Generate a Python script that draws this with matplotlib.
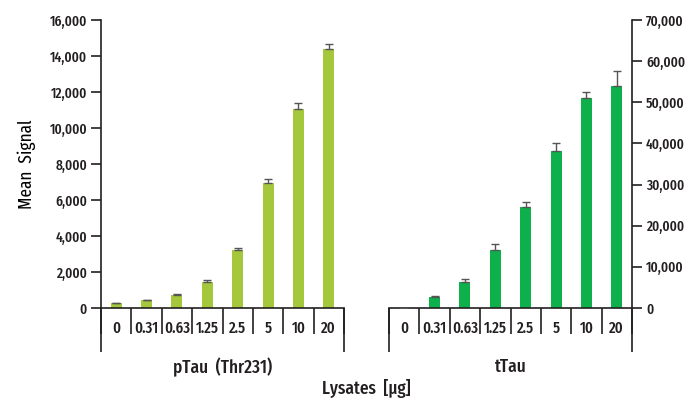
import matplotlib.pyplot as plt
import numpy as np

# lysate amounts (µg) shown along both panels
lysates = ["0", "0.31", "0.63", "1.25", "2.5", "5", "10", "20"]

# pTau (Thr231) mean signal and upper error
ptau_mean = [270, 440, 720, 1460, 3220, 6960, 11050, 14390]
ptau_err = [0, 0, 40, 100, 130, 190, 350, 260]

# tTau mean signal and upper error
ttau_mean = [0, 2750, 6400, 14100, 24600, 38170, 51000, 53960]
ttau_err = [0, 80, 650, 1450, 1100, 2000, 1550, 3700]

left_ticks = [0, 2000, 4000, 6000, 8000, 10000, 12000, 14000, 16000]
right_ticks = [0, 10000, 20000, 30000, 40000, 50000, 60000, 70000]

plt.rcParams["font.family"] = ["Fira Sans Extra Condensed", "Fira Sans Condensed", "DejaVu Sans"]
plt.rcParams["font.weight"] = 500

ink = "#231f20"
plt.rcParams["text.color"] = ink
plt.rcParams["axes.edgecolor"] = ink
plt.rcParams["xtick.color"] = ink
plt.rcParams["ytick.color"] = ink

W, H = 687, 405
fig = plt.figure(figsize=(W / 100, H / 100), dpi=100)


def px_axes(x0, x1, ytop, ybot):
    return fig.add_axes([x0 / W, (H - ybot) / H, (x1 - x0) / W, (ybot - ytop) / H])


ax1 = px_axes(101, 344, 20, 308)
ax2 = px_axes(389, 632, 20, 308)

ext = 44 / 288  # how far the box lines drop below the axis
x = np.arange(len(lysates))


def draw_panel(ax, mean, err, color, ymax, ticks, side, title):
    ax.bar(x, mean, width=0.36, color=color, zorder=2)
    ax.errorbar(x, mean, yerr=[np.zeros(len(err)), err], fmt="none",
                ecolor="#555555", elinewidth=1, capsize=3, capthick=1, zorder=3)
    ax.set_xlim(-0.5, len(lysates) - 0.5)
    ax.set_ylim(0, ymax)
    for s in ["top", "left", "right"]:
        ax.spines[s].set_visible(False)
    ax.spines["bottom"].set_linewidth(1.2)
    ax.spines[side].set_visible(True)
    ax.spines[side].set_linewidth(1.2)

    ax.set_yticks(ticks)
    ax.set_yticklabels([f"{t:,}" for t in ticks], fontsize=10.5)
    ax.tick_params(axis="y", direction="out", length=7, width=1.2, pad=3)
    if side == "right":
        ax.yaxis.tick_right()

    # category boxes below the axis
    ax.set_xticks([])
    ax.set_xticks(np.arange(-0.5, len(lysates)), minor=True)
    ax.tick_params(axis="x", which="minor", direction="out", length=19, width=1.2)
    for i, lab in enumerate(lysates):
        ax.text(i, -0.069, lab, transform=ax.get_xaxis_transform(),
                ha="center", va="center", fontsize=11.5)
    for xf in (0, 1):
        ax.plot([xf, xf], [0, -ext], transform=ax.transAxes, color=ink,
                lw=1.2, clip_on=False, solid_capstyle="butt")
    ax.text(0.5, -0.205, title, transform=ax.transAxes, ha="center",
            va="center", fontsize=13.5)


draw_panel(ax1, ptau_mean, ptau_err, "#a5c73b", 16000, left_ticks, "left", "pTau  (Thr231)")
draw_panel(ax2, ttau_mean, ttau_err, "#0db04b", 70000, right_ticks, "right", "tTau")

ax1.set_ylabel("Mean  Signal", fontsize=13.5, labelpad=10)
fig.text(366 / W, (H - 389) / H, "Lysates  [µg]", ha="center", va="center", fontsize=13.5)

fig.savefig("out.png", dpi=100)
